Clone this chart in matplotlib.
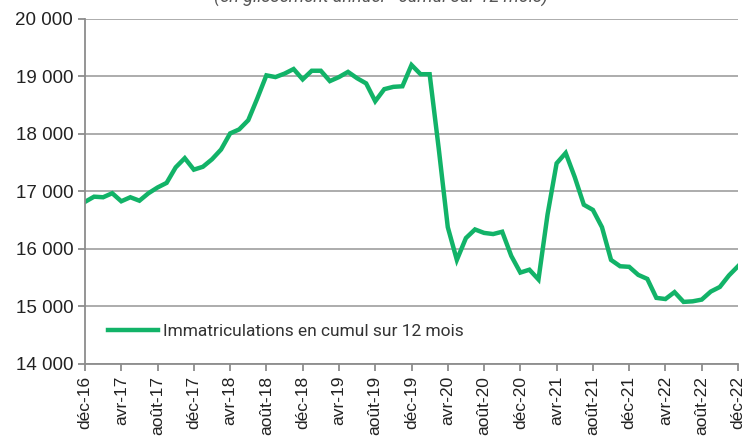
import matplotlib.pyplot as plt
from matplotlib.ticker import FuncFormatter

# monthly values, déc-16 .. déc-22
values = [16820, 16910, 16900, 16970, 16830, 16900, 16840, 16970, 17070, 17150,
          17420, 17580, 17380, 17430, 17560, 17730, 18010, 18080, 18240, 18620,
          19020, 18990, 19050, 19130, 18950, 19100, 19100, 18920, 18990, 19080,
          18970, 18880, 18570, 18780, 18820, 18830, 19200, 19040, 19040, 17750,
          16380, 15810, 16190, 16340, 16280, 16260, 16300, 15880, 15590, 15640,
          15470, 16600, 17490, 17670, 17250, 16770, 16680, 16380, 15810, 15700,
          15690, 15550, 15480, 15150, 15130, 15250, 15080, 15090, 15120, 15260,
          15340, 15540, 15700]
tick_labels = ['déc-16', 'avr-17', 'août-17', 'déc-17', 'avr-18', 'août-18',
               'déc-18', 'avr-19', 'août-19', 'déc-19', 'avr-20', 'août-20',
               'déc-20', 'avr-21', 'août-21', 'déc-21', 'avr-22', 'août-22', 'déc-22']
series_name = 'Immatriculations en cumul sur 12 mois'
subtitle = '(en glissement annuel - cumul sur 12 mois)'

green = '#12b368'
grey = '#a6a6a6'

fig = plt.figure(figsize=(7.47, 4.36), dpi=100)
ax = fig.add_axes([85 / 747, 1 - 364 / 436, (738 - 85) / 747, (364 - 19) / 436])

x = list(range(len(values)))
ax.plot(x, values, color=green, lw=3.2, solid_joinstyle='miter', label=series_name)

ax.set_xlim(0, len(values) - 1)
ax.set_ylim(14000, 20000)
ax.set_yticks(range(14000, 20001, 1000))
ax.yaxis.set_major_formatter(FuncFormatter(lambda v, p: f'{int(v):,}'.replace(',', ' ')))
ax.set_xticks(range(0, len(values), 4))
ax.set_xticklabels(tick_labels, rotation=90, fontsize=12.5, family='Liberation Sans')

for lab in ax.get_yticklabels():
    lab.set_family(['Liberation Sans Narrow', 'Liberation Sans'])
    lab.set_fontsize(13.5)

ax.grid(axis='y', color=grey, lw=1.3)
ax.set_axisbelow(True)
for s in ['top', 'right']:
    ax.spines[s].set_visible(False)
for s in ['left', 'bottom']:
    ax.spines[s].set_color('#8c8c8c')
    ax.spines[s].set_linewidth(1.3)
ax.tick_params(axis='both', color='#8c8c8c', width=1.3, length=5, colors='#222222')

leg = ax.legend(loc='center left', bbox_to_anchor=(0.011, 0.093), frameon=False,
                handlelength=2.9, handletextpad=0.3,
                prop={'family': 'Roboto', 'size': 12.5})
for t in leg.get_texts():
    t.set_color('#333333')

fig.text(0.51, 1.005, subtitle, ha='center', va='center', style='italic',
         fontsize=13, color='#555555', family='Roboto')

fig.savefig('out.png', dpi=100)
